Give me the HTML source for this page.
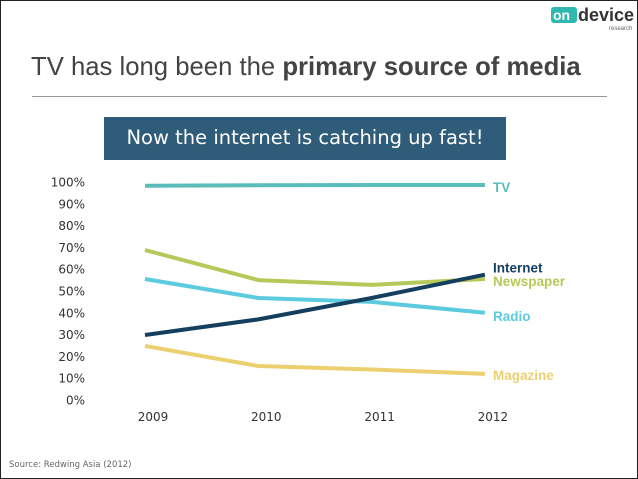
<!DOCTYPE html>
<html><head><meta charset="utf-8"><style>
body{margin:0;background:#fff}
#slide{position:relative;width:636px;height:477px;border:1px solid #222;overflow:hidden;font-family:"Liberation Sans",sans-serif}
#title{position:absolute;left:30px;top:52px;font-size:25.7px;color:#444;white-space:nowrap}
#rule{position:absolute;left:31px;top:95px;width:575px;height:1px;background:#999}
#banner{position:absolute;left:103px;top:116px;width:402px;height:43px;background:#2f5c78;color:#fff;font-family:"DejaVu Sans",sans-serif;font-size:19.5px;line-height:41px;text-align:center;white-space:nowrap}
#source{position:absolute;left:8px;top:459px;font-size:8.5px;color:#666;font-family:"DejaVu Sans",sans-serif}
#logo{position:absolute;left:550px;top:4px}
</style></head><body>
<div id="slide">
<div id="logo"><svg width="84" height="28"><rect x="0" y="2" width="26" height="16" rx="3" fill="#2fb8b0"/><text x="2" y="15" font-family="Liberation Sans" font-weight="bold" font-size="14" fill="#fff">on</text><text x="27" y="16" font-family="Liberation Sans" font-weight="bold" font-size="18" fill="#333">device</text><text x="58" y="25" font-family="Liberation Sans" font-size="6" fill="#666">research</text></svg></div>
<div id="title">TV has long been the <b>primary source of media</b></div>
<div id="rule"></div>
<div id="banner">Now the internet is catching up fast!</div>
<svg id="chart" width="636" height="477" style="position:absolute;left:0;top:0"></svg>
<div id="source">Source: Redwing Asia (2012)</div>
</div>
<script>
const years=["2009","2010","2011","2012"];
const yTicks=[0,10,20,30,40,50,60,70,80,90,100];
const seriesNames=["TV","Newspaper","Radio","Internet","Magazine"];
const tv=[98.3,98.5,98.6,98.6];
const newspaper=[68.8,55,52.8,55.5];
const radio=[55.5,46.8,45,40];
const internet=[29.8,37,46.8,57.5];
const magazine=[24.8,15.6,14,12];
const colors={TV:"#5bbcbc",Newspaper:"#b5c95a",Radio:"#5ccbe0",Internet:"#153f5e",Magazine:"#ecd070"};
const labelOffset={TV:2,Newspaper:2,Radio:3,Internet:-7,Magazine:1};
const svg=document.getElementById('chart');
const NS="http://www.w3.org/2000/svg";
function x(i){return 144+i*113.3;}
function y(v){return 399-v*2.18;}
yTicks.forEach(t=>{const e=document.createElementNS(NS,'text');


e.setAttribute('x',84);e.setAttribute('y',y(t)+4.5);e.setAttribute('text-anchor','end');
e.setAttribute('font-family','DejaVu Sans, sans-serif');e.setAttribute('font-size','12');e.setAttribute('fill','#333');
e.textContent=t+'%';svg.appendChild(e);});
years.forEach((yr,i)=>{const e=document.createElementNS(NS,'text');


e.setAttribute('x',x(i)+8);e.setAttribute('y',420);e.setAttribute('text-anchor','middle');
e.setAttribute('font-family','DejaVu Sans, sans-serif');e.setAttribute('font-size','12');e.setAttribute('fill','#333');
e.textContent=yr;svg.appendChild(e);});
const data=[tv,newspaper,radio,internet,magazine];
const order=[0,1,2,4,3];
order.forEach(k=>{const name=seriesNames[k],vals=data[k];
const p=document.createElementNS(NS,'polyline');


p.setAttribute('points',vals.map((v,i)=>x(i)+','+y(v)).join(' '));
p.setAttribute('fill','none');p.setAttribute('stroke',colors[name]);p.setAttribute('stroke-width','4');
svg.appendChild(p);
const t=document.createElementNS(NS,'text');


t.setAttribute('x',492);t.setAttribute('y',y(vals[3])+5+labelOffset[name]);
t.setAttribute('font-family','Liberation Sans, sans-serif');t.setAttribute('font-weight','bold');t.setAttribute('font-size','13.5');
t.setAttribute('fill',colors[name]);t.textContent=name;svg.appendChild(t);});
</script>
</body></html>
